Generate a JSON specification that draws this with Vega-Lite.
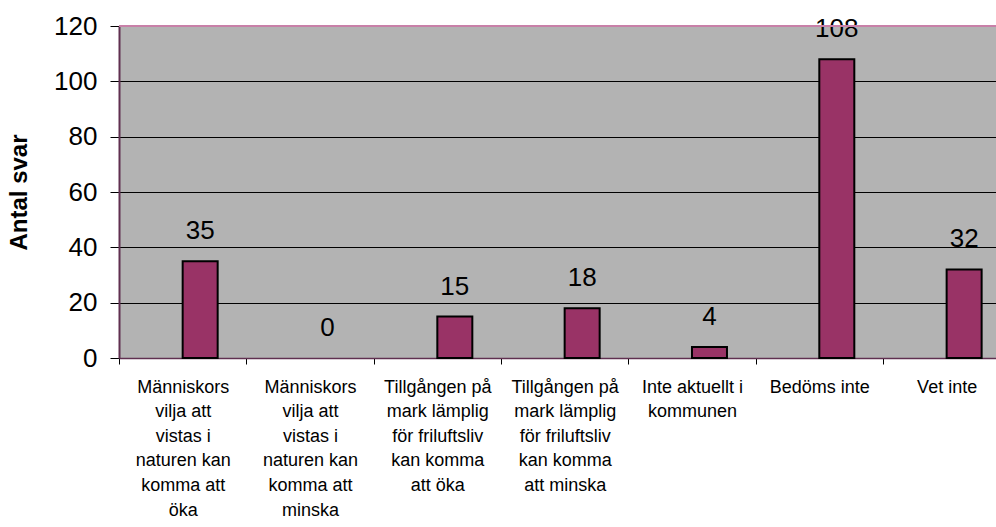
{
  "$schema": "https://vega.github.io/schema/vega-lite/v6.json",
  "width": 877,
  "height": 332,
  "autosize": {"type": "none"},
  "padding": {"left": 119, "top": 26, "right": 0, "bottom": 169},
  "background": "white",
  "config": {
    "view": {"fill": "#b3b3b3", "stroke": null},
    "font": "Liberation Sans"
  },
  "layer": [
    {
      "data": {
        "values": [
          {"kategori": "Människors|vilja att|vistas i|naturen kan|komma att|öka", "antal": 35},
          {"kategori": "Människors|vilja att|vistas i|naturen kan|komma att|minska", "antal": 0},
          {"kategori": "Tillgången på|mark lämplig|för friluftsliv|kan komma|att öka", "antal": 15},
          {"kategori": "Tillgången på|mark lämplig|för friluftsliv|kan komma|att minska", "antal": 18},
          {"kategori": "Inte aktuellt i|kommunen", "antal": 4},
          {"kategori": "Bedöms inte", "antal": 108},
          {"kategori": "Vet inte", "antal": 32}
        ]
      },
      "encoding": {
        "x": {
          "field": "kategori",
          "type": "nominal",
          "sort": null,
          "scale": {"range": [0, 891.3], "paddingInner": 0, "paddingOuter": 0},
          "axis": {
            "title": null,
            "labelAngle": 0,
            "labelExpr": "datum.value ? split(datum.value, '|') : ''",
            "labelFontSize": 18,
            "labelLineHeight": 24.6,
            "labelColor": "black",
            "labelLimit": 0,
            "labelOverlap": false,
            "labelPadding": 14,
            "labelBaseline": "top",
            "tickBand": "extent",
            "tickSize": 6,
            "tickColor": "black",
            "domainColor": "#603050",
            "domainWidth": 1.5,
            "grid": false
          }
        },
        "y": {
          "field": "antal",
          "type": "quantitative",
          "scale": {"domain": [0, 120], "nice": false},
          "axis": {
            "title": "Antal svar",
            "titleFontSize": 24,
            "titleFontWeight": "bold",
            "titleColor": "black",
            "titlePadding": 22,
            "values": [0, 20, 40, 60, 80, 100, 120],
            "labelFontSize": 26,
            "labelColor": "black",
            "labelPadding": 13,
            "tickSize": 9,
            "tickColor": "black",
            "domainColor": "#603050",
            "domainWidth": 2,
            "grid": true,
            "gridColor": "black",
            "gridWidth": 1,
            "gridOpacity": 1
          }
        }
      },
      "layer": [
        {
          "mark": {"type": "bar", "width": 35, "xOffset": 17.5, "fill": "#993366", "stroke": "black", "strokeWidth": 2},
          "encoding": {
            "strokeOpacity": {"condition": {"test": "datum.antal > 0", "value": 1}, "value": 0}
          }
        },
        {
          "mark": {"type": "text", "xOffset": 17.5, "dy": -22, "baseline": "alphabetic", "fontSize": 26, "color": "black"},
          "encoding": {"text": {"field": "antal", "type": "quantitative"}}
        }
      ]
    },
    {
      "data": {"values": [{"top": 120}]},
      "mark": {"type": "rule", "stroke": "#c880a8", "strokeWidth": 2},
      "encoding": {"y": {"field": "top", "type": "quantitative"}}
    }
  ]
}
